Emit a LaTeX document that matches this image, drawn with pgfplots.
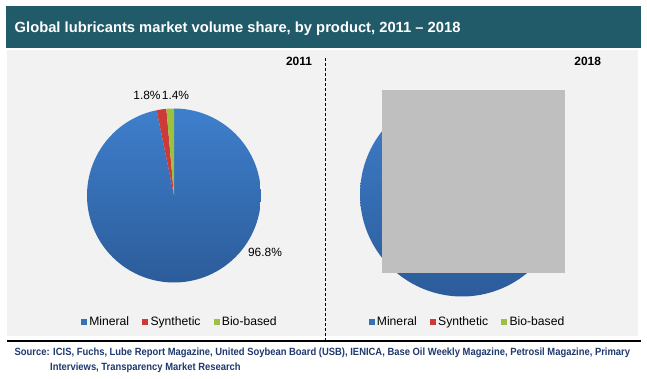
\documentclass[border=0pt]{standalone}
\usepackage{fontspec}
\setmainfont{Liberation Sans}
\newfontfamily\narrowfont[FakeStretch=0.90]{Liberation Sans}
\usepackage{pgfplots}
\pgfplotsset{compat=1.18}
\usepackage{pgfplotstable}
\definecolor{titlebar}{HTML}{215A69}
\definecolor{panel}{HTML}{F2F2F2}
\definecolor{minTop}{HTML}{3E7FCC}
\definecolor{minBot}{HTML}{2C5C9A}
\definecolor{minC}{HTML}{3670B8}
\definecolor{synC}{HTML}{CC3B37}
\definecolor{bioC}{HTML}{9BC23F}
\definecolor{srcC}{HTML}{1F3A6E}
\definecolor{coverC}{HTML}{BFBFBF}

\pgfplotstableread{
product share
Mineral 96.8
Synthetic 1.8
Bio-based 1.4
}\shareA
\pgfplotstableread{
product share
Mineral 95.9
Synthetic 2.4
Bio-based 1.7
}\shareB

\pgfplotsset{
  piebase/.style={
    at={(0,0)}, anchor=south west, scale only axis,
    width=647bp, height=378bp,
    xmin=0, xmax=647, ymin=0, ymax=378,
    hide axis, clip=false,
    legend image code/.code={\fill[##1] (0bp,-2.5bp) rectangle (5bp,2.5bp);},
    legend columns=-1,
    legend style={anchor=west, draw=none, fill=none, inner sep=0pt,
      font=\fontsize{12.2}{14}\selectfont,
      nodes={inner sep=0pt},
      /tikz/every odd column/.append style={column sep=3bp},
      /tikz/every even column/.append style={column sep=13bp}},
  }
}

\begin{document}
\begin{tikzpicture}[x=1bp,y=1bp]
\pgfplotstablegetelem{1}{share}\of\shareA \pgfmathsetmacro\aS{\pgfplotsretval}
\pgfplotstablegetelem{2}{share}\of\shareA \pgfmathsetmacro\aB{\pgfplotsretval}
\pgfmathsetmacro\aOne{90+3.6*\aB}
\pgfmathsetmacro\aTwo{90+3.6*(\aB+\aS)}
\pgfplotstablegetelem{1}{share}\of\shareB \pgfmathsetmacro\bS{\pgfplotsretval}
\pgfplotstablegetelem{2}{share}\of\shareB \pgfmathsetmacro\bB{\pgfplotsretval}
\pgfmathsetmacro\bOne{90+3.6*\bB}
\pgfmathsetmacro\bTwo{90+3.6*(\bB+\bS)}

\path[use as bounding box] (0,0) rectangle (647,378);
\fill[white] (0,0) rectangle (647,378);
\fill[titlebar] (6,330) rectangle (641,372);
\node[anchor=base west, inner sep=0pt, text=white, font=\fontsize{14.8}{17}\selectfont\bfseries]
  at (14.5,346) {Global lubricants market volume share, by product, 2011 – 2018};
\fill[panel] (7,42) rectangle (638,328);
\draw[black, line width=0.8bp, dash pattern=on 3bp off 2bp] (325,320) -- (325,36);
\draw[black, line width=2bp] (7,37) -- (641,37);
\node[anchor=base west, inner sep=0pt, text=srcC, font=\fontsize{10.5}{12}\narrowfont\bfseries]
  at (14.5,23) {Source: ICIS, Fuchs, Lube Report Magazine, United Soybean Board (USB), IENICA, Base Oil Weekly Magazine, Petrosil Magazine, Primary};
\node[anchor=base west, inner sep=0pt, text=srcC, font=\fontsize{10.5}{12}\narrowfont\bfseries]
  at (50,7.5) {Interviews, Transparency Market Research};

% 2011 pie
\begin{axis}[piebase, legend style={at={(axis description cs:0.12473,0.14894)}}]
\addplot[forget plot, draw=none, top color=minTop, bottom color=minBot, domain=\aTwo:450, samples=150, variable=\t]
  ({174+87*cos(\t)},{182.5+87*sin(\t)}) -- (axis cs:174,182.5) -- cycle;
\addplot[forget plot, draw=none, fill=synC, domain=\aOne:\aTwo, samples=10, variable=\t]
  ({174+87*cos(\t)},{182.5+87*sin(\t)}) -- (axis cs:174,182.5) -- cycle;
\addplot[forget plot, draw=none, fill=bioC, domain=90:\aOne, samples=10, variable=\t]
  ({174+87*cos(\t)},{182.5+87*sin(\t)}) -- (axis cs:174,182.5) -- cycle;
\addlegendimage{minC}\addlegendentry{Mineral}
\addlegendimage{synC}\addlegendentry{Synthetic}
\addlegendimage{bioC}\addlegendentry{Bio-based}
\end{axis}

% 2018 pie
\begin{axis}[piebase, legend style={at={(axis description cs:0.56924,0.14894)}}]
\addplot[forget plot, draw=none, top color=minTop, bottom color=minBot, domain=\bTwo:450, samples=150, variable=\t]
  ({462+102*cos(\t)},{183.5+102*sin(\t)}) -- (axis cs:462,183.5) -- cycle;
\addplot[forget plot, draw=none, fill=synC, domain=\bOne:\bTwo, samples=10, variable=\t]
  ({462+102*cos(\t)},{183.5+102*sin(\t)}) -- (axis cs:462,183.5) -- cycle;
\addplot[forget plot, draw=none, fill=bioC, domain=90:\bOne, samples=10, variable=\t]
  ({462+102*cos(\t)},{183.5+102*sin(\t)}) -- (axis cs:462,183.5) -- cycle;
\addlegendimage{minC}\addlegendentry{Mineral}
\addlegendimage{synC}\addlegendentry{Synthetic}
\addlegendimage{bioC}\addlegendentry{Bio-based}
\end{axis}

\fill[coverC] (381.7,104.7) rectangle (565,288);

\begin{scope}[every node/.style={inner sep=0pt, font=\fontsize{12}{14}\selectfont}]
\node at (147,282.3) {1.8\%};
\node at (175.5,282.3) {1.4\%};
\node at (265,126) {96.8\%};
\node[font=\fontsize{12}{14}\selectfont\bfseries] at (299,316.3) {2011};
\node[font=\fontsize{12}{14}\selectfont\bfseries] at (587.7,316.3) {2018};
\end{scope}
\end{tikzpicture}
\end{document}
